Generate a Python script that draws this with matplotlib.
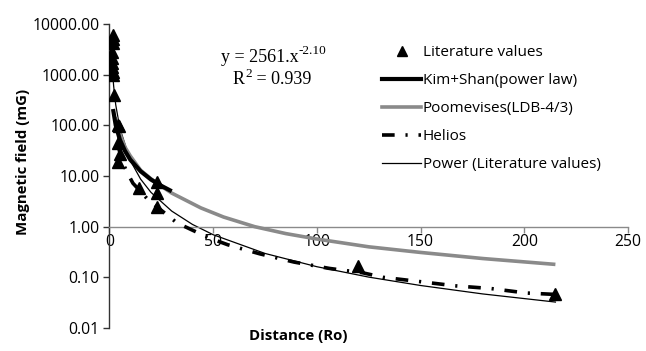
import matplotlib
matplotlib.use("Agg")
import matplotlib.pyplot as plt
from matplotlib.ticker import FixedLocator, NullLocator, FuncFormatter
from matplotlib.lines import Line2D

# ---- data ----
lit_x = [1.5, 1.5, 1.5, 1.3, 1.3, 1.3, 1.3, 1.5, 1.5, 2.0, 4.0, 4.5, 4.2, 5.0, 4.0, 14, 23, 23, 23, 120, 215]
lit_y = [6000, 5000, 4200, 2800, 2100, 1700, 1400, 1150, 1000, 400, 100, 95, 45, 27, 19, 5.8, 7.6, 4.7, 2.4, 0.17, 0.047]

kim_x = [1.7, 3, 5, 7.5, 10, 15, 20, 25, 30]
kim_y = [210, 100, 52, 31, 21, 12.4, 8.5, 6.4, 5.0]

poom_x = [3, 4, 5.5, 7.5, 10, 15, 20, 24, 30, 44, 55, 70, 85, 100, 125, 150, 180, 215]
poom_y = [146, 95, 60, 37, 25, 13, 8.8, 6.7, 4.6, 2.35, 1.55, 1.0, 0.73, 0.57, 0.40, 0.31, 0.235, 0.18]

hel_x = [4, 6, 8.4, 11.3, 15.7, 18.6, 25, 32.5, 39.8, 48, 57, 64.4, 72.6, 89, 106, 122, 132, 150, 166.6, 184, 201, 215]
hel_y = [42, 20, 12, 7.2, 4.6, 3.4, 2.1, 1.19, 0.86, 0.6, 0.44, 0.36, 0.29, 0.2, 0.15, 0.123, 0.10, 0.082, 0.068, 0.06, 0.049, 0.046]

pow_x = [1, 1.5, 2, 3, 5, 10, 15, 20, 30, 40, 50, 75, 100, 125, 150, 180, 215]
pow_y = [2561, 1094, 597, 255, 87.1, 20.3, 8.68, 4.75, 2.03, 1.107, 0.693, 0.296, 0.162, 0.101, 0.069, 0.047, 0.0325]

x_ticks = [0, 50, 100, 150, 200, 250]
y_ticks = [0.01, 0.1, 1, 10, 100, 1000, 10000]

series_labels = ["Literature values", "Kim+Shan(power law)", "Poomevises(LDB-4/3)",
                 "Helios", "Power (Literature values)"]

plt.rcParams["font.family"] = ["Open Sans", "DejaVu Sans"]

W, H = 646, 351
fig = plt.figure(figsize=(W / 100, H / 100), dpi=100)
x0, x1, ytop, ybot = 109.5, 628, 24, 328
ax = fig.add_axes([x0 / W, 1 - ybot / H, (x1 - x0) / W, (ybot - ytop) / H])

gray = "#8a8a8a"
ax.plot(pow_x, pow_y, color="black", lw=0.9, zorder=2)
ax.plot(poom_x, poom_y, color=gray, lw=2.6, zorder=3, solid_capstyle="butt")
ax.plot(kim_x, kim_y, color="black", lw=3.0, zorder=4, solid_capstyle="butt")
ax.plot(hel_x, hel_y, color="black", lw=2.6, zorder=4, dashes=(3.5, 3, 0.6, 3))
ax.plot(lit_x, lit_y, ls="none", marker="^", color="black", ms=9, zorder=5)

ax.set_yscale("log")
ax.set_xlim(0, 250)
ax.set_ylim(0.01, 10000)
for s in ["top", "right"]:
    ax.spines[s].set_visible(False)
ax.spines["bottom"].set_position(("data", 1))
ax.spines["bottom"].set_color(gray)
ax.spines["bottom"].set_linewidth(1.0)
ax.spines["left"].set_color("#333333")
ax.spines["left"].set_linewidth(1.0)

ax.xaxis.set_major_locator(FixedLocator(x_ticks))
ax.yaxis.set_major_locator(FixedLocator(y_ticks))
ax.yaxis.set_minor_locator(NullLocator())
ax.yaxis.set_major_formatter(FuncFormatter(lambda v, p: f"{v:.2f}"))
ax.tick_params(axis="y", direction="out", length=4, width=1, color="#333333",
               labelsize=11.3, pad=3)
ax.tick_params(axis="x", direction="out", length=4, width=1, color=gray,
               labelsize=11.3, pad=1)

fig.text(298 / W, 1 - 336 / H, "Distance (Ro)", ha="center", va="center",
         fontsize=10.8, fontweight="bold")
fig.text(23 / W, 1 - 162 / H, "Magnetic field (mG)", ha="center", va="center",
         rotation=90, fontsize=10.8, fontweight="bold")

serif = "Liberation Serif"
t1 = fig.text(221 / W, 1 - 57 / H, "y = 2561.x", ha="left", va="center",
              fontsize=13, family=serif)
ax.annotate("-2.10", xy=(1.0, 0.5), xycoords=t1, ha="left", va="bottom",
            fontsize=9.5, family=serif, annotation_clip=False)
t2 = fig.text(233 / W, 1 - 80 / H, "R", ha="left", va="center",
              fontsize=13, family=serif)
t3 = ax.annotate("2", xy=(1.0, 0.5), xycoords=t2, ha="left", va="bottom",
                 fontsize=9.5, family=serif, annotation_clip=False)
ax.annotate(" = 0.939", xy=(1.0, 0.5), xycoords=t2, xytext=(5, 0),
            textcoords="offset points", ha="left", va="center",
            fontsize=13, family=serif, annotation_clip=False)

handles = [
    Line2D([], [], ls="none", marker="^", color="black", ms=7),
    Line2D([], [], color="black", lw=3.0),
    Line2D([], [], color=gray, lw=2.6),
    Line2D([], [], color="black", lw=2.6, dashes=(3.5, 3, 0.6, 3)),
    Line2D([], [], color="black", lw=0.9),
]
fig.legend(handles, series_labels, loc="upper left",
           bbox_to_anchor=(381.7 / W, 1 - 45 / H), frameon=False,
           fontsize=11, handlelength=2.6, handletextpad=0.1,
           labelspacing=0.85, borderpad=0, borderaxespad=0)

fig.savefig("out.png", dpi=100)
